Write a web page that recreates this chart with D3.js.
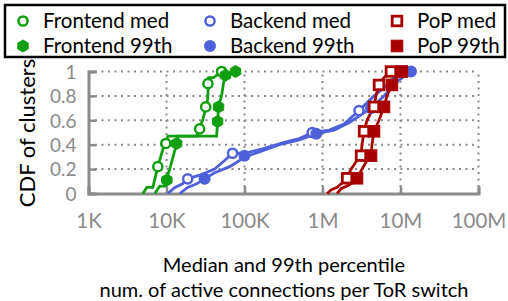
<!DOCTYPE html>
<html>
<head>
<meta charset="utf-8">
<script src="https://cdn.jsdelivr.net/npm/d3@7"></script>
<style>
  body { margin: 0; background: #fff; }
  text { font-family: Lato, "Open Sans", sans-serif; }
</style>
</head>
<body>
<svg id="chart" width="508" height="301"></svg>
<script>
// CDF points per series: [connections, fraction of clusters]
var frontendMed = [[4980,0],[5600,0.05],[6680,0.05],[7740,0.22],[8970,0.36],[9800,0.41],[10400,0.47],
  [24400,0.47],[26600,0.55],[29100,0.6],[31800,0.7],[33700,0.77],[34700,0.95],[40200,0.95],[50800,1]];
var frontend99 = [[7080,0],[8200,0.06],[9510,0.06],[10100,0.13],[11000,0.2],[13500,0.41],[13900,0.47],
  [43900,0.47],[45200,0.59],[46500,0.72],[50800,0.8],[55500,0.96],[60000,0.97],[76700,1]];
var backendMed = [[10400,0],[12800,0.05],[16100,0.08],[18700,0.12],[26600,0.15],[41400,0.2],[55600,0.27],
  [70300,0.33],[100000,0.33],[180000,0.37],[324000,0.42],[505000,0.45],[739000,0.5],[1220000,0.52],
  [1890000,0.57],[2940000,0.68],[4570000,0.8],[7110000,0.9],[9550000,1]];
var backend99 = [[14800,0],[18700,0.05],[24400,0.08],[30800,0.12],[41400,0.17],[64400,0.22],[86300,0.27],
  [100000,0.3],[155000,0.34],[280000,0.4],[505000,0.44],[832000,0.49],[1410000,0.52],[2190000,0.58],
  [4190000,0.7],[6140000,0.8],[9550000,0.93],[13600000,1]];
var popMed = [[1150000,0],[1290000,0.03],[1540000,0.05],[1890000,0.1],[2070000,0.125],[2320000,0.2],
  [2770000,0.27],[3120000,0.31],[3210000,0.4],[3410000,0.51],[3720000,0.6],[4570000,0.71],[4850000,0.8],
  [5300000,0.89],[6140000,0.95],[7540000,1]];
var pop99 = [[1540000,0],[1730000,0.04],[2190000,0.07],[2540000,0.1],[2770000,0.125],[3210000,0.2],
  [3720000,0.27],[4190000,0.31],[4310000,0.4],[4570000,0.51],[5300000,0.6],[6140000,0.71],[6700000,0.8],
  [7760000,0.89],[8990000,0.95],[10400000,1]];

// points that carry a marker
var frontendMedMarks = [[7740,0.22],[9800,0.41],[26600,0.53],[31800,0.71],[34000,0.9],[50800,1]];
var frontend99Marks = [[10100,0.11],[13500,0.41],[45200,0.59],[46500,0.71],[57000,0.97],[76700,1]];
var backendMedMarks = [[18700,0.12],[70300,0.33],[739000,0.5],[2940000,0.68]];
var backend99Marks = [[30800,0.12],[100000,0.31],[832000,0.49],[4190000,0.7],[13600000,1]];
var popMedMarks = [[2070000,0.125],[3120000,0.31],[3410000,0.51],[4570000,0.71],[5300000,0.89],[7540000,1]];
var pop99Marks = [[2770000,0.125],[4190000,0.31],[4570000,0.51],[6140000,0.71],[7760000,0.89],[10400000,1]];

var xTicks = [1e3, 1e4, 1e5, 1e6, 1e7, 1e8];
var xTickLabels = ["1K", "10K", "100K", "1M", "10M", "100M"];
var yTicks = [0, 0.2, 0.4, 0.6, 0.8, 1];

var green = "#109f10", blue = "#4f61d8", red = "#a80000", grid = "#8a8a8a";

var series = [
  {name: "Frontend med", data: frontendMed, marks: frontendMedMarks, color: green, shape: "circle", open: true},
  {name: "Frontend 99th", data: frontend99, marks: frontend99Marks, color: green, shape: "hex", open: false},
  {name: "Backend med", data: backendMed, marks: backendMedMarks, color: blue, shape: "circle", open: true},
  {name: "Backend 99th", data: backend99, marks: backend99Marks, color: blue, shape: "circle", open: false},
  {name: "PoP med", data: popMed, marks: popMedMarks, color: red, shape: "square", open: true},
  {name: "PoP 99th", data: pop99, marks: pop99Marks, color: red, shape: "square", open: false}
];

var svg = d3.select("#chart");

var x = d3.scaleLog().domain([1e3, 1e8]).range([88.5, 478.5]);
var y = d3.scaleLinear().domain([0, 1]).range([193.5, 71.5]);

// dotted grid
svg.append("g").selectAll("line").data(xTicks.slice(1)).enter().append("line")
  .attr("x1", function(d) { return x(d); }).attr("x2", function(d) { return x(d); })
  .attr("y1", y(0)).attr("y2", y(1))
  .attr("stroke", grid).attr("stroke-width", 2).attr("stroke-dasharray", "2,4.5");
svg.append("g").selectAll("line").data(yTicks.slice(1)).enter().append("line")
  .attr("x1", x(1e3)).attr("x2", x(1e8))
  .attr("y1", function(d) { return y(d); }).attr("y2", function(d) { return y(d); })
  .attr("stroke", grid).attr("stroke-width", 2).attr("stroke-dasharray", "2,4.5");

// axes
var xAxis = d3.axisBottom(x).tickValues(xTicks).tickSize(-7)
  .tickFormat(function(d, i) { return xTickLabels[i]; });
var yAxis = d3.axisLeft(y).tickValues(yTicks).tickSize(-8)
  .tickFormat(function(d) { return d === 0 ? "0" : d === 1 ? "1" : d3.format(".1f")(d); });

var gx = svg.append("g").attr("transform", "translate(0," + y(0) + ")").call(xAxis);
var gy = svg.append("g").attr("transform", "translate(" + x(1e3) + ",0)").call(yAxis);
[gx, gy].forEach(function(g) {
  g.select(".domain").attr("stroke", grid).attr("stroke-width", 3);
  g.selectAll(".tick line").attr("stroke", grid).attr("stroke-width", 2.5);
  g.selectAll(".tick text").attr("fill", grid).style("font-size", "19px");
});
gx.selectAll(".tick text").attr("y", 18).attr("dy", "0.8em").style("font-size", "20.5px");
gy.selectAll(".tick text").attr("x", -12).attr("dy", "0.36em");

// lines
var line = d3.line().x(function(d) { return x(d[0]); }).y(function(d) { return y(d[1]); });
series.forEach(function(s) {
  svg.append("path").datum(s.data)
    .attr("d", line).attr("fill", "none")
    .attr("stroke", s.color).attr("stroke-width", 2.8).attr("stroke-linejoin", "miter");
});

function drawMarker(g, s, cx, cy) {
  var fill = s.open ? "#fff" : s.color;
  if (s.shape === "square") {
    var h = s.open ? 4.8 : 5.8;
    g.append("rect").attr("x", cx - h).attr("y", cy - h).attr("width", 2 * h).attr("height", 2 * h)
      .attr("fill", fill).attr("stroke", s.color).attr("stroke-width", s.open ? 2.8 : 1);
  } else if (s.shape === "hex") {
    var pts = d3.range(6).map(function(k) {
      var a = Math.PI / 3 * k + Math.PI / 6;
      return [cx + 6 * Math.cos(a), cy + 6 * Math.sin(a)];
    });
    g.append("polygon").attr("points", pts.join(" ")).attr("fill", fill).attr("stroke", s.color).attr("stroke-width", 1);
  } else {
    g.append("circle").attr("cx", cx).attr("cy", cy).attr("r", s.open ? 4.6 : 6)
      .attr("fill", fill).attr("stroke", s.color).attr("stroke-width", s.open ? 2.5 : 0);
  }
}

series.forEach(function(s) {
  var g = svg.append("g");
  s.marks.forEach(function(p) { drawMarker(g, s, x(p[0]), y(p[1])); });
});

// axis titles
svg.append("text").attr("transform", "translate(35,133) rotate(-90)")
  .attr("text-anchor", "middle").style("font-size", "22px").text("CDF of clusters");
svg.append("text").attr("x", 284).attr("y", 272).attr("text-anchor", "middle")
  .style("font-size", "20px").text("Median and 99th percentile");
svg.append("text").attr("x", 284).attr("y", 297).attr("text-anchor", "middle")
  .style("font-size", "20px").text("num. of active connections per ToR switch");

// legend
var lg = svg.append("g");
lg.append("rect").attr("x", 5).attr("y", 5).attr("width", 500).attr("height", 52)
  .attr("fill", "#fff").attr("stroke", "#000").attr("stroke-width", 2.5);
var legX = [23, 210, 397];
series.forEach(function(s, i) {
  var cx = legX[Math.floor(i / 2)], cy = i % 2 === 0 ? 21 : 46;
  drawMarker(lg, s, cx, cy);
  lg.append("text").attr("x", cx + 20).attr("y", cy + 7).style("font-size", "20.5px").text(s.name);
});
</script>
</body>
</html>
